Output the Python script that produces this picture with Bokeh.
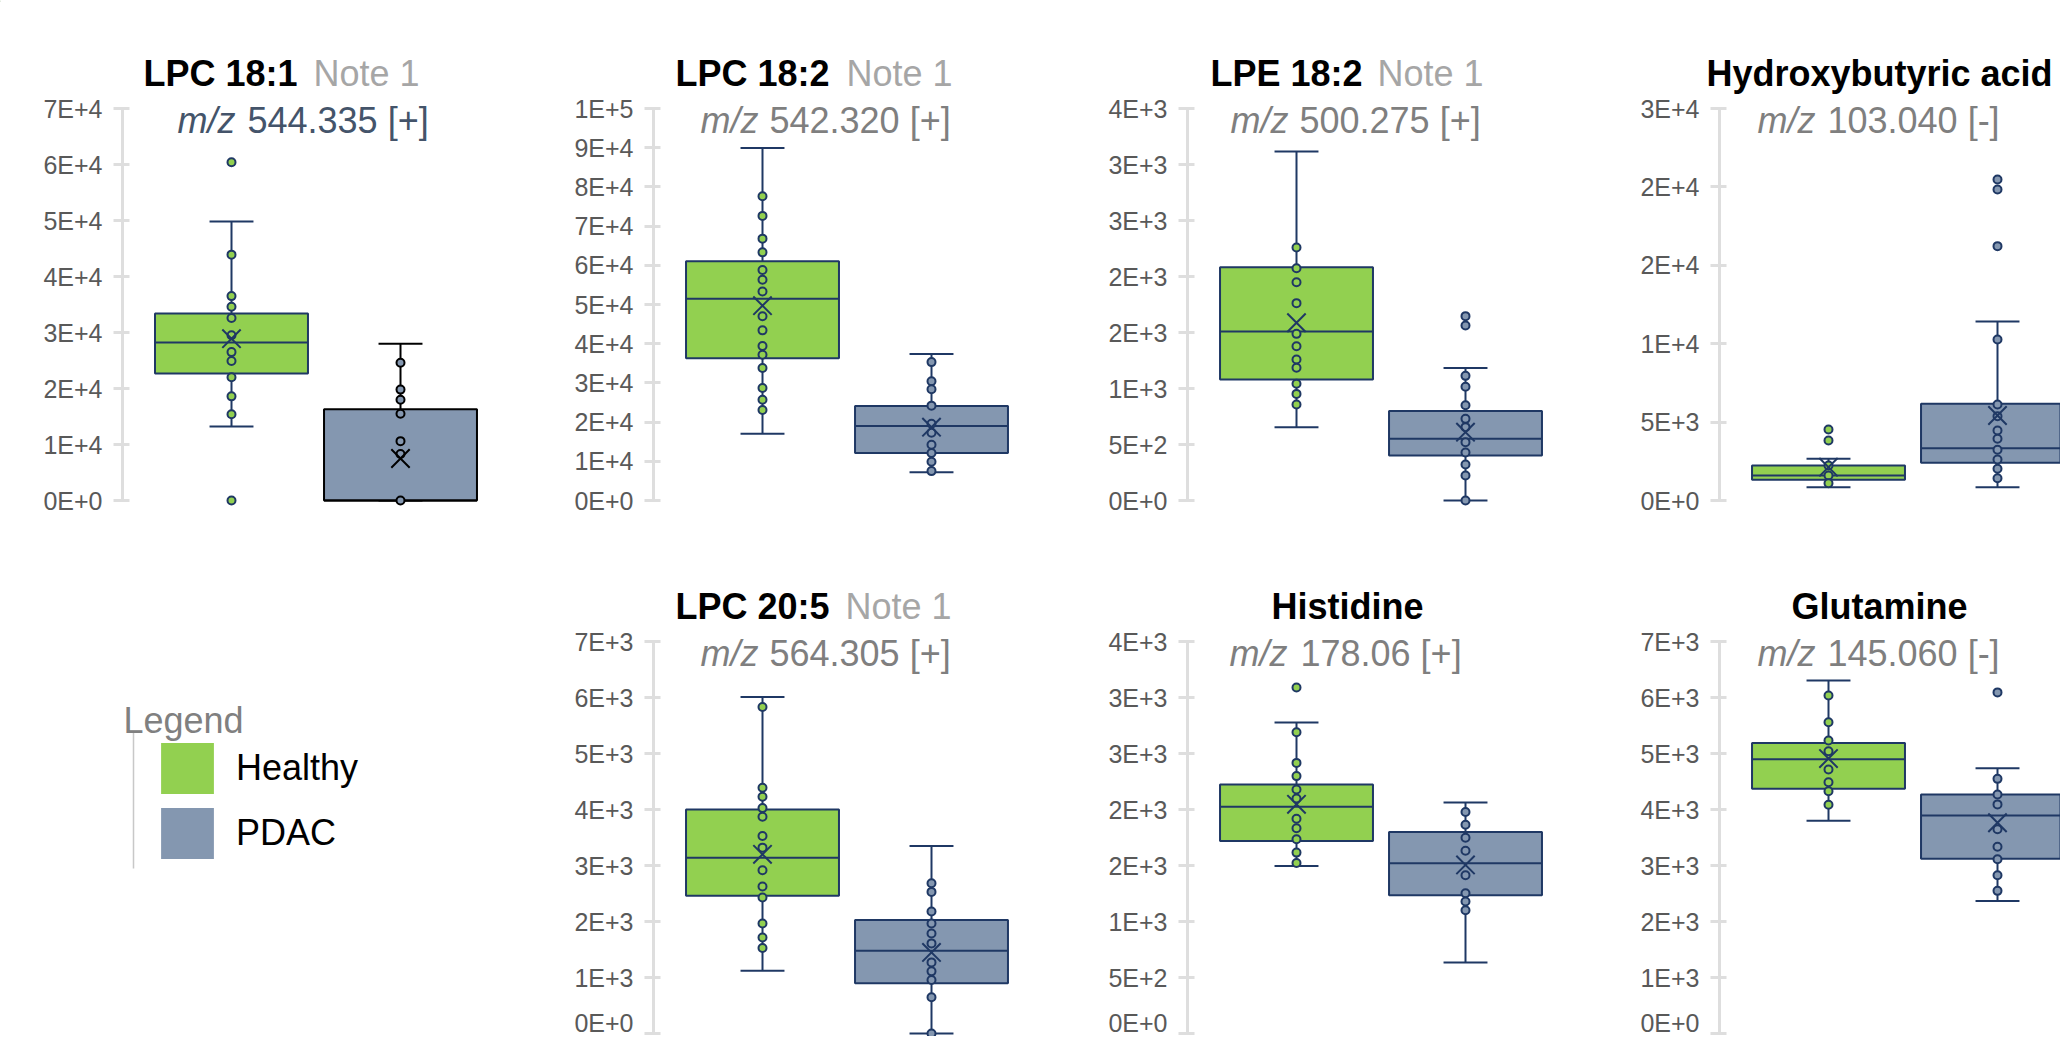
from bokeh.plotting import figure
from bokeh.models import (Range1d, FixedTicker, CustomJSTickFormatter, Label, LinearAxis,
                          ColumnDataSource, Legend, LegendItem)
from bokeh.embed import file_html
from bokeh.resources import INLINE

# ---------------- data ----------------
groups = ["Healthy", "PDAC"]
metabolites = ["LPC 18:1", "LPC 18:2", "LPE 18:2", "Hydroxybutyric acid",
               "LPC 20:5", "Histidine", "Glutamine"]
notes = ["Note 1", "Note 1", "Note 1", "", "Note 1", "", ""]
mz_values = ["544.335", "542.320", "500.275", "103.040", "564.305", "178.06", "145.060"]
ion_modes = ["+", "+", "+", "-", "+", "+", "-"]
y_max = [70000, 100000, 3500, 25000, 7000, 3500, 7000]
y_step = [10000, 10000, 500, 5000, 1000, 500, 1000]

# box statistics per metabolite: [Healthy, PDAC]
whisker_low = [[13200, 0], [17000, 7200], [655, 0], [850, 850],
               [1122, 0], [1496, 635], [3799, 2368]]
q1 = [[22700, 0], [36300, 12100], [1080, 402], [1318, 2402],
      [2458, 896], [1719, 1235], [4369, 3122]]
median = [[28200, 0], [51450, 19000], [1509, 551], [1594, 3338],
          [3140, 1478], [2024, 1520], [4898, 3895]]
q3 = [[33400, 16300], [61050, 24100], [2083, 798], [2232, 6166],
      [4002, 2025], [2224, 1799], [5188, 4269]]
whisker_high = [[49800, 28000], [89900, 37400], [3116, 1182], [2658, 11417],
                [6008, 3348], [2776, 2063], [6305, 4737]]
mean = [[28900, 7500], [49700, 18700], [1587, 610], [2126, 5421],
        [3200, 1448], [2046, 1505], [4910, 3763]]

healthy_points = [
    [60400, 43900, 36500, 34600, 32600, 29500, 26500, 24900, 22000, 18600, 15400, 0],
    [77600, 72600, 66800, 63300, 58800, 56300, 53300, 47000, 43400, 39400, 37200,
     33800, 28700, 25700, 23100],
    [2259, 2074, 1949, 1762, 1488, 1378, 1259, 1185, 1042, 952, 857],
    [4528, 3827, 2232, 1594, 1105],
    [5829, 4387, 4227, 4025, 3870, 3527, 3319, 2916, 2624, 2428, 1965, 1715, 1526],
    [3090, 2690, 2416, 2298, 2179, 2099, 1917, 1832, 1734, 1615, 1523],
    [6037, 5557, 5231, 5040, 4714, 4488, 4327, 4084],
]
pdac_points = [
    [24600, 19800, 18000, 15500, 10600, 8300, 0],
    [35300, 30400, 28400, 24200, 19600, 17300, 14200, 12100, 9900, 7500],
    [1646, 1563, 1113, 1015, 851, 729, 655, 521, 429, 321, 223, 0],
    [20473, 19836, 16221, 10269, 6123, 5378, 4465, 3933, 3232, 2615, 2020, 1424],
    [2684, 2529, 2178, 1965, 1787, 1609, 1270, 1110, 956, 647, 0],
    [1977, 1864, 1748, 1632, 1413, 1253, 1178, 1101],
    [6091, 4547, 4269, 4091, 3646, 3336, 3111, 2826, 2547],
]

# ---------------- style / layout ----------------
FONT = "Liberation Sans"
FILL = {"Healthy": "#92d050", "PDAC": "#8497b0"}
NAVY = "#1f3864"
line_colors = [[NAVY, "#000000"]] + [[NAVY, NAVY]] * 6
sub_colors = ["#44546a"] + ["#7f7f7f"] * 6
NOTE_COLOR = "#a6a6a6"

W, H = 2060, 1036          # canvas
OFF = 0                    # canvas offset on the page
BOX_W = 0.905
CAP_W = 0.26
PX_UNIT = 169.0            # px per category step
AXIS_TO_FIRST = 109.0      # px from axis to first box centre
SPAN = 392.0               # px from 0 to y max
panel_axis_x = [122, 653, 1187, 1719, 653, 1187, 1719]   # page px
panel_top_y = [108, 108, 108, 108, 641, 641, 641]         # page px of y max

title_offsets = [(21, 191), (22, 193), (23, 190), None, (22, 192), None, None]
sub_offsets = [(55, 125), (47, 116), (43, 112), (38, 108), (47, 116), (42, 113), (38, 108)]

p = figure(width=W, height=H, x_range=Range1d(0, W), y_range=Range1d(H, 0),
           min_border=0, x_axis_location=None, y_axis_location=None,
           toolbar_location=None, output_backend="svg", outline_line_color=None,
           title=None)
p.xgrid.visible = False
p.ygrid.visible = False

X0 = -AXIS_TO_FIRST / PX_UNIT
xr, yr = {}, {}
for i in range(len(metabolites)):
    a = panel_axis_x[i] - OFF
    z = panel_top_y[i] - OFF + SPAN
    upp = y_max[i] / SPAN
    xs = X0 - a / PX_UNIT
    xr[f"x{i}"] = Range1d(xs, xs + W / PX_UNIT)
    yr[f"y{i}"] = Range1d(-(H - z) * upp, z * upp)
p.extra_x_ranges = xr
p.extra_y_ranges = yr

for i in range(len(metabolites)):
    rn = dict(x_range_name=f"x{i}", y_range_name=f"y{i}")
    ymax = y_max[i]
    n = int(round(ymax / y_step[i]))
    ax = LinearAxis(fixed_location=X0, bounds=(0, ymax),
                    ticker=FixedTicker(ticks=[k * y_step[i] for k in range(n + 1)], minor_ticks=[]),
                    formatter=CustomJSTickFormatter(code="return tick.toExponential(0).toUpperCase();"),
                    axis_line_color="#dedede", axis_line_width=3,
                    major_tick_line_color="#dedede", major_tick_line_width=3,
                    major_tick_out=9, major_tick_in=7, minor_tick_line_color=None,
                    major_label_text_font=FONT, major_label_text_font_size="25px",
                    major_label_text_color="#595959", major_label_standoff=11, **rn)
    p.add_layout(ax, "left")

    xs = [float(groups.index(g)) for g in groups]
    src = ColumnDataSource(dict(
        x=xs,
        xl=[x - BOX_W / 2 for x in xs], xr=[x + BOX_W / 2 for x in xs],
        cl=[x - CAP_W / 2 for x in xs], cr=[x + CAP_W / 2 for x in xs],
        lo=whisker_low[i], q1=q1[i], med=median[i], q3=q3[i],
        hi=whisker_high[i], mean=mean[i],
        fill=[FILL[g] for g in groups], line=line_colors[i],
    ))
    p.segment(x0="x", x1="x", y0="q3", y1="hi", line_color="line", line_width=2, source=src, **rn)
    p.segment(x0="x", x1="x", y0="lo", y1="q1", line_color="line", line_width=2, source=src, **rn)
    p.segment(x0="cl", x1="cr", y0="hi", y1="hi", line_color="line", line_width=2, source=src, **rn)
    p.segment(x0="cl", x1="cr", y0="lo", y1="lo", line_color="line", line_width=2, source=src, **rn)
    p.vbar(x="x", width=BOX_W, bottom="q1", top="q3", fill_color="fill",
           line_color="line", line_width=2, source=src, **rn)
    p.segment(x0="xl", x1="xr", y0="med", y1="med", line_color="line", line_width=2, source=src, **rn)
    for gi, pts in enumerate([healthy_points[i], pdac_points[i]]):
        p.scatter(x=[xs[gi]] * len(pts), y=pts, size=8, marker="circle",
                  fill_color=FILL[groups[gi]], line_color=line_colors[i][gi], line_width=2, **rn)
    p.scatter(x="x", y="mean", marker="x", size=26, line_color="line", line_width=2,
              source=src, **rn)

    def lab(xoff, yoff, text, style, color, align="left"):
        p.add_layout(Label(x=X0, y=ymax, x_offset=xoff, y_offset=yoff, text=text,
                           text_font=FONT, text_font_size="36px", text_font_style=style,
                           text_color=color, text_baseline="alphabetic", text_align=align, **rn))
    if title_offsets[i] is None:
        lab(160, 35, metabolites[i], "bold", "black", "center")
    else:
        lab(title_offsets[i][0], 35, metabolites[i], "bold", "black")
        lab(title_offsets[i][1], 35, notes[i], "normal", NOTE_COLOR)
    lab(sub_offsets[i][0], -12, "m/z", "italic", sub_colors[i])
    lab(sub_offsets[i][1], -12, f"{mz_values[i]} [{ion_modes[i]}]", "normal", sub_colors[i])

# ---------------- legend ----------------
items = []
for g in groups:
    r = p.vbar(x=[-1000], width=1, bottom=[0], top=[1], fill_color=FILL[g], line_color=None)
    items.append(LegendItem(label=g, renderers=[r]))
leg_left, leg_bottom = 154 - OFF, 865 - OFF     # page px of legend box
leg = Legend(items=items, location=(leg_left, H - leg_bottom), orientation="vertical",
             glyph_width=66, glyph_height=64, label_height=64, label_standoff=16,
             spacing=1, padding=0, margin=0, border_line_color=None,
             background_fill_alpha=0, label_text_font=FONT,
             label_text_font_size="36px", label_text_color="black")
p.add_layout(leg)
p.segment(x0=[133 - OFF], x1=[133 - OFF], y0=[732 - OFF], y1=[868 - OFF],
          line_color="#c8c8c8", line_width=1.5)
p.add_layout(Label(x=123 - OFF, y=720 - OFF, text="Legend", text_font=FONT,
                   text_font_size="36px", text_color="#808080",
                   text_baseline="alphabetic", text_align="left"))

open("out.html", "w").write(file_html(p, INLINE))
